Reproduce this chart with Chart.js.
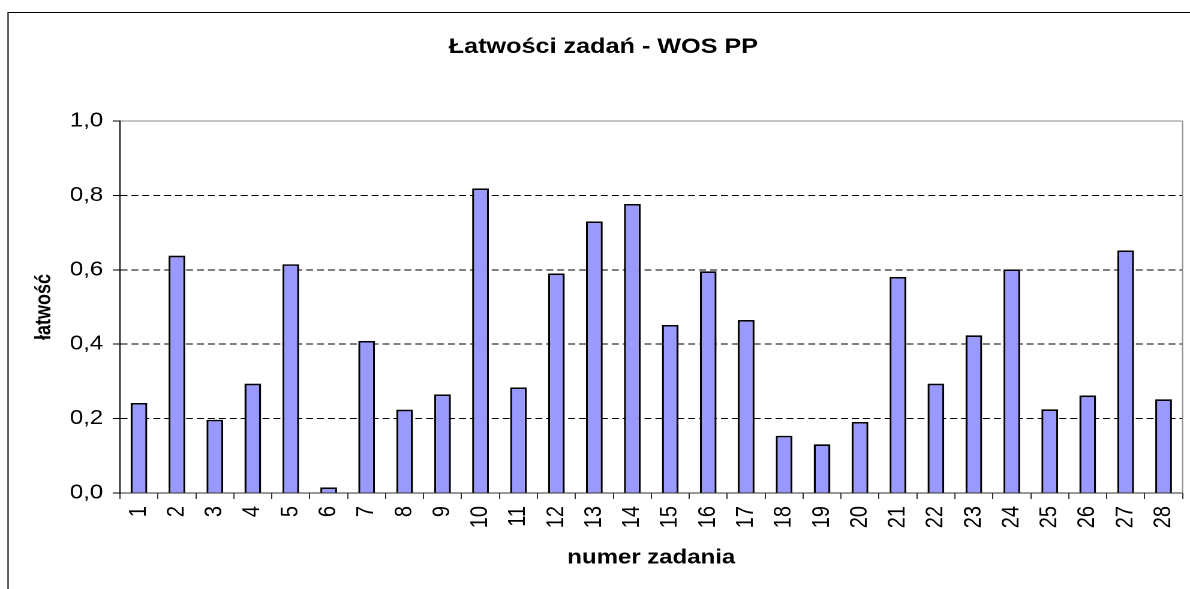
<!DOCTYPE html>
<html lang="pl">
<head>
  <meta charset="UTF-8">
  <title>Łatwości zadań - WOS PP</title>
  <style>
    body {
      margin: 0;
      background: #fff;
    }
    #chart {
      display: block;
    }
  </style>
  <script src="https://cdn.jsdelivr.net/npm/chart.js"></script>
</head>
<body>
  <!-- canvas drawn a bit narrower and stretched sideways, like the exported sheet chart -->
  <canvas id="chart" width="992" height="589" style="width:1190px;height:589px"></canvas>

  <script>
    const zadania = ["1", "2", "3", "4", "5", "6", "7", "8", "9", "10", "11", "12", "13", "14",
                     "15", "16", "17", "18", "19", "20", "21", "22", "23", "24", "25", "26", "27", "28"];
    const latwosc = [0.242, 0.638, 0.197, 0.294, 0.615, 0.015, 0.409, 0.224, 0.265, 0.819,
                     0.284, 0.590, 0.730, 0.777, 0.452, 0.596, 0.465, 0.154, 0.131, 0.191,
                     0.581, 0.294, 0.424, 0.601, 0.225, 0.262, 0.652, 0.252];
    const yMin = 0;
    const yMax = 1;
    const yStep = 0.2;

    const chartTitle = "Łatwości zadań - WOS PP";
    const fontFamily = "'Liberation Sans', Arial, sans-serif";

    // outer frame, title and grey right edge of the plot area
    const frame = {
      id: "frame",
      beforeDraw(chart) {
        const ctx = chart.ctx;
        ctx.save();
        ctx.fillStyle = "#fff";
        ctx.fillRect(0, 0, chart.width, chart.height);
        ctx.strokeStyle = "#000";
        ctx.lineWidth = 1;
        ctx.strokeRect(6.7, 12.5, chart.width + 20, chart.height + 20);
        ctx.restore();
      },
      afterDraw(chart) {
        const ctx = chart.ctx;
        const area = chart.chartArea;
        ctx.save();
        ctx.strokeStyle = "#8c8c8c";
        ctx.lineWidth = 1;
        ctx.beginPath();
        ctx.moveTo(area.right, area.top);
        ctx.lineTo(area.right, area.bottom);
        ctx.stroke();

        ctx.fillStyle = "#000";
        ctx.font = "bold 21px " + fontFamily;
        ctx.textAlign = "center";
        ctx.textBaseline = "middle";
        ctx.fillText(chartTitle, 503, 47);
        ctx.restore();
      }
    };

    new Chart(document.getElementById("chart"), {
      type: "bar",
      data: {
        labels: zadania,
        datasets: [{
          label: "łatwość",
          data: latwosc,
          backgroundColor: "#9999ff",
          borderColor: "#000",
          borderWidth: 1.7,
          barPercentage: 0.44,
          categoryPercentage: 1
        }]
      },
      options: {
        responsive: false,
        animation: false,
        devicePixelRatio: 2,
        layout: {
          padding: { top: 121, right: 6.2, bottom: 0, left: 0 }
        },
        plugins: {
          legend: { display: false },
          tooltip: { enabled: false }
        },
        scales: {
          x: {
            // fixed height, and no extra side room for the rotated end labels
            afterFit: (scale) => {
              scale.height = 96;
              scale.paddingLeft = 0;
              scale.paddingRight = 0;
            },
            grid: {
              drawOnChartArea: false,
              drawTicks: true,
              tickLength: 6,
              tickColor: "#333"
            },
            border: { display: true, color: "#333", width: 1 },
            ticks: {
              autoSkip: false,
              minRotation: 90,
              maxRotation: 90,
              padding: 7,
              color: "#000",
              font: { family: fontFamily, size: 20 }
            },
            title: {
              display: true,
              text: "numer zadania",
              color: "#000",
              font: { family: fontFamily, size: 20, weight: "bold" },
              padding: { top: 0, bottom: 19 }
            }
          },
          y: {
            min: yMin,
            max: yMax,
            afterFit: (scale) => { scale.width = 100; },
            grid: {
              color: (c) => {
                if (c.tick.value === yMin) return "rgba(0,0,0,0)";
                if (c.tick.value === yMax) return "#8c8c8c";
                return "#000";
              },
              lineWidth: 1,
              tickLength: 6,
              tickColor: "#000"
            },
            border: {
              display: true,
              color: "#000",
              width: 1,
              dash: (c) => (c.tick && c.tick.value === yMax ? [] : [5.8, 3.3])
            },
            ticks: {
              stepSize: yStep,
              padding: 8,
              color: "#000",
              font: { family: fontFamily, size: 20 },
              callback: (v) => v.toFixed(1).replace(".", ",")
            },
            title: {
              display: true,
              text: "łatwość",
              color: "#000",
              font: { family: fontFamily, size: 18, weight: "bold" },
              padding: { top: 26, bottom: 0 }
            }
          }
        }
      },
      plugins: [frame]
    });
  </script>
</body>
</html>
